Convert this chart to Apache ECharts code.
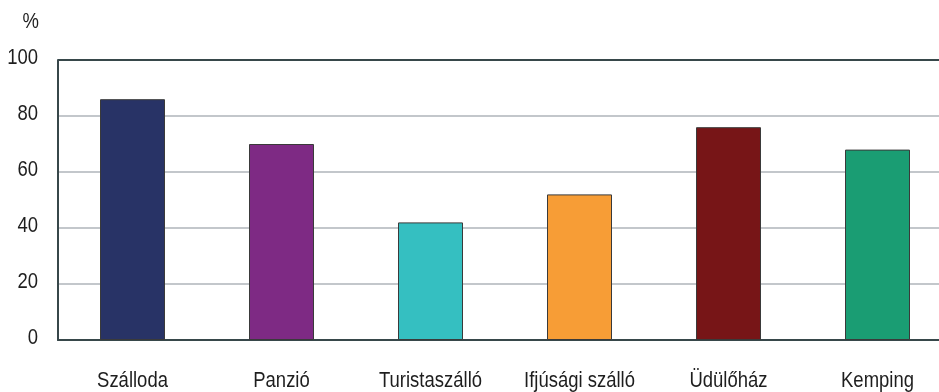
<!DOCTYPE html>
<html>
<head>
<meta charset="utf-8">
<script src="https://cdn.jsdelivr.net/npm/echarts@6/dist/echarts.min.js"></script>
<style>
  html, body { margin: 0; padding: 0; background: #ffffff; }
  #chart { width: 939px; height: 392px; }
</style>
</head>
<body>
<div id="chart"></div>
<script>
// Accommodation types and their share (%)
const categories = ['Szálloda', 'Panzió', 'Turistaszálló', 'Ifjúsági szálló', 'Üdülőház', 'Kemping'];
const values = [86, 70, 42, 52, 76, 68];
const barColors = ['#283366', '#7e2a84', '#35bfc1', '#f79d36', '#771517', '#1a9d73'];
const yTicks = [0, 20, 40, 60, 80, 100];
const unitName = '%';

const FONT_FAMILY = '"Liberation Sans", Arial, sans-serif';
const FONT_SIZE = 22;
const TEXT_COLOR = '#1e1e1e';
const FRAME = '#37474a';
const GRID = '#c3c7cb';
// Narrow lettering: regular sans squeezed horizontally
const SQUEEZE = 0.84;

const chart = echarts.init(document.getElementById('chart'), null, { renderer: 'canvas' });

// category slots are 149px wide; the plot runs on past the right edge
const slotPx = 149;
const gridLeft = 58;
const gridWidth = 939 - gridLeft;

chart.setOption({
  animation: false,
  grid: { left: gridLeft, top: 60, width: gridWidth, height: 280, containLabel: false },
  xAxis: {
    type: 'value',
    min: -0.5,
    max: -0.5 + gridWidth / slotPx,
    axisLine: { show: true, onZero: false, lineStyle: { color: FRAME, width: 2 } },
    axisTick: { show: false },
    axisLabel: { show: false },
    splitLine: { show: false }
  },
  yAxis: {
    type: 'value',
    min: yTicks[0],
    max: yTicks[yTicks.length - 1],
    interval: 20,
    axisLine: { show: true, onZero: false, lineStyle: { color: FRAME, width: 2 } },
    axisTick: { show: false },
    axisLabel: { show: false },
    splitLine: {
      show: true,
      lineStyle: { color: yTicks.map((t, i) => (i === yTicks.length - 1 ? FRAME : GRID)), width: 2 }
    }
  },
  series: [{
    type: 'bar',
    barWidth: 65,
    data: values.map((v, i) => ({ value: [i, v], itemStyle: { color: barColors[i] } })),
    itemStyle: { borderColor: '#3a3a3a', borderWidth: 1 }
  }]
});

// Axis texts, placed from the axes' own scales
function squeezedText(x, y, text, align) {
  return {
    type: 'text',
    x: x,
    y: y,
    scaleX: SQUEEZE,
    silent: true,
    style: {
      text: text,
      fill: TEXT_COLOR,
      fontSize: FONT_SIZE,
      fontFamily: FONT_FAMILY,
      textAlign: align,
      textVerticalAlign: 'middle'
    }
  };
}

const texts = [];
const axisY = chart.convertToPixel({ yAxisIndex: 0 }, yTicks[0]);
const axisX = chart.convertToPixel({ xAxisIndex: 0 }, -0.5);
categories.forEach((name, i) => {
  const cx = chart.convertToPixel({ xAxisIndex: 0 }, i);
  texts.push(squeezedText(cx, axisY + 41, name, 'center'));
});
yTicks.forEach(t => {
  const ty = chart.convertToPixel({ yAxisIndex: 0 }, t);
  texts.push(squeezedText(axisX - 20, ty - 2, String(t), 'right'));
});
const topY = chart.convertToPixel({ yAxisIndex: 0 }, yTicks[yTicks.length - 1]);
texts.push(squeezedText(axisX - 19, topY - 38, unitName, 'right'));

chart.setOption({ graphic: { elements: texts } });
</script>
</body>
</html>
